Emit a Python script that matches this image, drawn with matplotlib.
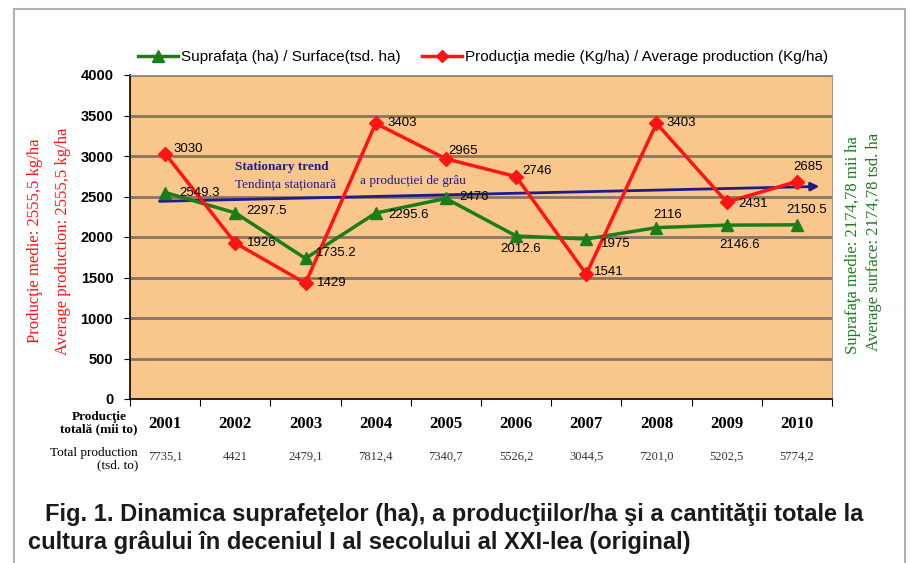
import matplotlib
matplotlib.use("Agg")
import matplotlib.pyplot as plt
from matplotlib.patches import Rectangle

years = ["2001", "2002", "2003", "2004", "2005", "2006", "2007", "2008", "2009", "2010"]
production = [3030, 1926, 1429, 3403, 2965, 2746, 1541, 3403, 2431, 2685]
surface = [2549.3, 2297.5, 1735.2, 2295.6, 2476, 2012.6, 1975, 2116, 2146.6, 2150.5]
surface_labels = ["2549.3", "2297.5", "1735.2", "2295.6", "2476", "2012.6", "1975", "2116", "2146.6", "2150.5"]
total_prod = ["7735,1", "4421", "2479,1", "7812,4", "7340,7", "5526,2", "3044,5", "7201,0", "5202,5", "5774,2"]
trend_start, trend_end = 2440, 2625
yticks = [0, 500, 1000, 1500, 2000, 2500, 3000, 3500, 4000]

GREEN = "#1a7d1a"
RED = "#ff1414"
NAVY = "#1c1c8c"

fig = plt.figure(figsize=(9.14, 5.63), dpi=100)
fig.patch.set_facecolor("white")

# outer frame
fig.patches.append(Rectangle((14/914, -0.05), (905-14)/914, 1.05 - 9/563, transform=fig.transFigure,
                             fill=False, edgecolor="#b0b0b0", lw=1.5, zorder=0))

ax = fig.add_axes([130/914, 1-399/563, 702/914, 324/563])
ax.set_facecolor("#f9c68c")
x = list(range(len(years)))
ax.set_xlim(-0.5, len(years) - 0.5)
ax.set_ylim(0, 4000)
ax.set_yticks(yticks)
ax.set_yticklabels([str(v) for v in yticks], fontsize=10.5, fontweight="bold", family="Liberation Sans")
for v in yticks[1:]:
    ax.axhline(v, color="#8a7560", lw=2, zorder=1)
ax.set_xticks([i - 0.5 for i in range(len(years) + 1)])
ax.set_xticklabels([])
ax.tick_params(axis="x", direction="out", length=5, color="black")
ax.tick_params(axis="y", direction="out", length=4, color="black", pad=8)
for s in ["left", "bottom"]:
    ax.spines[s].set_color("black")
    ax.spines[s].set_linewidth(1.2)
for s in ["top", "right"]:
    ax.spines[s].set_color("#9a9a9a")

# trend
ax.annotate("", xy=(9.36, trend_end), xytext=(-0.12, trend_start),
            arrowprops=dict(arrowstyle="-|>", color=NAVY, lw=2, mutation_scale=12), zorder=3)
ax.text(1.0, 2860, "Stationary trend", color=NAVY, fontsize=9.5, fontweight="bold",
        family="Liberation Serif", va="center", zorder=4)
ax.text(1.0, 2655, "Tendința staționară", color=NAVY, fontsize=9.5, family="Liberation Serif",
        va="center", zorder=4)
ax.text(2.78, 2690, "a producției de grâu", color=NAVY, fontsize=9.5, family="Liberation Serif",
        va="center", zorder=4)

ax.plot(x, surface, color=GREEN, lw=2.5, marker="^", markersize=9, zorder=5,
        label="Suprafaţa (ha) / Surface(tsd. ha)")
ax.plot(x, production, color=RED, lw=2.5, marker="D", markersize=7, zorder=6,
        label="Producţia medie (Kg/ha) / Average production (Kg/ha)")

red_off = [(8, 5, "left"), (12, 0, "left"), (11, 0, "left"), (12, 0, "left"), (2, 8, "left"),
           (6, 6, "left"), (8, 2, "left"), (10, 0, "left"), (12, -2, "left"), (11, 15, "center")]
green_off = [(14, 0, "left"), (11, 2, "left"), (10, 5, "left"), (13, -2, "left"), (13, 1, "left"),
             (5, -13, "center"), (15, -5, "left"), (11, 13, "center"), (13, -20, "center"), (10, 15, "center")]
for i in x:
    dx, dy, ha = red_off[i]
    ax.annotate(str(production[i]), (i, production[i]), textcoords="offset pixels", xytext=(dx, dy),
                fontsize=9.5, family="Liberation Sans", va="center", ha=ha, zorder=7)
    dx, dy, ha = green_off[i]
    ax.annotate(surface_labels[i], (i, surface[i]), textcoords="offset pixels", xytext=(dx, dy),
                fontsize=9.5, family="Liberation Sans", va="center", ha=ha, zorder=7)

fig.legend(loc="center", bbox_to_anchor=(483/914, 1-57/563), ncol=2, frameon=False,
           prop=dict(family="Liberation Sans", size=11), handlelength=2.6, columnspacing=1.4,
           handletextpad=0.2, markerscale=0.9)

# axis side labels
fig.text(35/914, 1-241/563, "Producţie medie: 2555,5 kg/ha", rotation=90, color=RED, fontsize=12,
         family="Liberation Serif", ha="center", va="center")
fig.text(63/914, 1-241/563, "Average production: 2555,5 kg/ha", rotation=90, color=RED, fontsize=12,
         family="Liberation Serif", ha="center", va="center")
fig.text(853/914, 1-245/563, "Suprafaţa medie: 2174,78 mii ha", rotation=90, color=GREEN, fontsize=12,
         family="Liberation Serif", ha="center", va="center")
fig.text(874/914, 1-242/563, "Average surface: 2174,78 tsd. ha", rotation=90, color=GREEN, fontsize=12,
         family="Liberation Serif", ha="center", va="center")

# table under axis
for i in x:
    xf = (130 + (i + 0.5) * 70.2) / 914
    fig.text(xf, 1-424/563, years[i], fontsize=12, fontweight="bold", family="Liberation Serif",
             ha="center", va="center")
    fig.text(xf, 1-457/563, total_prod[i], fontsize=9, family="Liberation Serif", color="#333333",
             ha="center", va="center")
fig.text(138/914, 1-423/563, "Producţie\ntotală (mii to)", fontsize=9.5, fontweight="bold",
         family="Liberation Serif", ha="right", va="center", multialignment="center", linespacing=1.05)
fig.text(138/914, 1-459/563, "Total production\n(tsd. to)", fontsize=9.5,
         family="Liberation Serif", ha="right", va="center", multialignment="right", linespacing=1.05)

fig.text(45/914, 1-515/563, "Fig. 1. Dinamica suprafeţelor (ha), a producţiilor/ha şi a cantităţii totale la",
         fontsize=17, fontweight="bold", family="Liberation Sans", color="#1a1a1a", va="center")
fig.text(28/914, 1-542/563, "cultura grâului în deceniul I al secolului al XXI-lea (original)",
         fontsize=17, fontweight="bold", family="Liberation Sans", color="#1a1a1a", va="center")

fig.savefig("out.png", dpi=100)
